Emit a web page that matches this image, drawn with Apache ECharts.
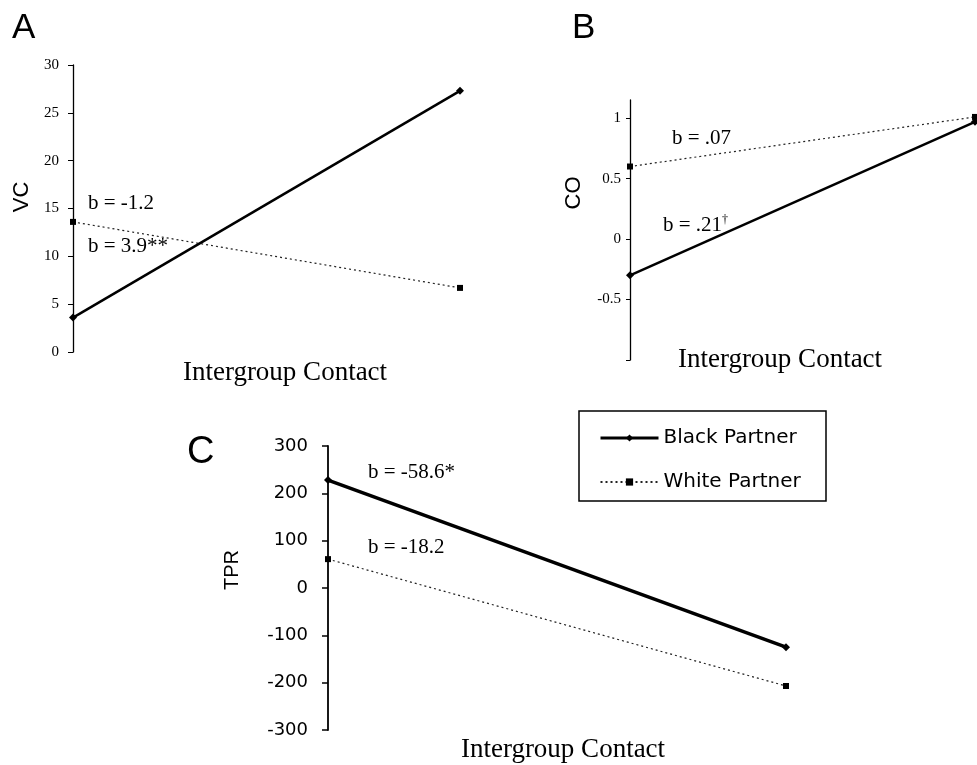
<!DOCTYPE html>
<html lang="en">
<head>
<meta charset="utf-8">
<title>Intergroup Contact</title>
<script src="https://cdn.jsdelivr.net/npm/echarts@6/dist/echarts.min.js"></script>
<style>
html, body { margin: 0; background: #fff; }
#main { width: 977px; height: 765px; }
</style>
</head>
<body>
<div id="main"></div>
<script>
// low / high intergroup contact
var contact = ['Low', 'High'];

// panel A - VC
var vcBlack = [3.6, 27.3];
var vcWhite = [13.6, 6.7];
// panel B - CO
var coBlack = [-0.30, 0.97];
var coWhite = [0.60, 1.01];
var coTicks = [-1, -0.5, 0, 0.5, 1];
var coLabels = [-0.5, 0, 0.5, 1];
// panel C - TPR
var tprBlack = [228, -125];
var tprWhite = [61, -207];

var slopesA = ['b = -1.2', 'b = 3.9**'];
var slopesB = ['b = .07', 'b = .21{s|†}'];
var slopesC = ['b = -58.6*', 'b = -18.2'];

var SERIF = 'Liberation Serif';
var SANS = 'Liberation Sans';
var chart = echarts.init(document.getElementById('main'));

function xAx(i) {
    return {
        type: 'category', gridIndex: i, data: contact, boundaryGap: false,
        axisLine: { show: false }, axisTick: { show: false },
        axisLabel: { show: false }, splitLine: { show: false }
    };
}
function blackLine(i, data, w) {
    return {
        name: 'Black Partner', type: 'line', xAxisIndex: i, yAxisIndex: i, data: data,
        symbol: 'diamond', symbolSize: 8, lineStyle: { color: '#000', width: w },
        itemStyle: { color: '#000' }, z: 3
    };
}
function whiteLine(i, data) {
    return {
        name: 'White Partner', type: 'line', xAxisIndex: i, yAxisIndex: i, data: data,
        symbol: 'rect', symbolSize: 6, lineStyle: { color: '#222', width: 1.2, type: [2, 3] },
        itemStyle: { color: '#000' }, z: 2
    };
}
function txt(text, x, y, font, align) {
    return {
        type: 'text', x: x, y: y,
        style: { text: text, font: font, fill: '#000', align: align || 'left', verticalAlign: 'middle' }
    };
}
function vtxt(text, x, y, font) {
    var t = txt(text, x, y, font, 'center');
    t.rotation = Math.PI / 2;
    return t;
}
function slope(text, x, y) {
    return {
        type: 'text', x: x, y: y,
        style: {
            text: text, fontFamily: SERIF, fontSize: 21, fill: '#000', verticalAlign: 'middle',
            rich: { s: { fontFamily: SERIF, fontSize: 12, verticalAlign: 'top', padding: [0, 0, 10, 0] } }
        }
    };
}

chart.setOption({
    animation: false,
    backgroundColor: '#fff',
    grid: [
        { left: 73, top: 65, width: 387, height: 287 },
        { left: 630, top: 100, width: 345, height: 260 },
        { left: 328, top: 446, width: 458, height: 284 }
    ],
    xAxis: [xAx(0), xAx(1), xAx(2)],
    yAxis: [
        {
            type: 'value', gridIndex: 0, min: 0, max: 30, interval: 5,
            axisLine: { show: true, lineStyle: { color: '#000', width: 1.3 } },
            axisTick: { show: true, length: 5, lineStyle: { color: '#000' } },
            axisLabel: { margin: 14, fontFamily: SERIF, fontSize: 15, color: '#000' },
            splitLine: { show: false }
        },
        {
            type: 'value', gridIndex: 1, min: -1, max: 1.15,
            axisLine: { show: true, lineStyle: { color: '#000', width: 1.3 } },
            axisTick: { show: true, length: 4, customValues: coTicks, lineStyle: { color: '#000' } },
            axisLabel: { margin: 9, customValues: coLabels, fontFamily: SERIF, fontSize: 15, color: '#000' },
            splitLine: { show: false }
        },
        {
            type: 'value', gridIndex: 2, min: -300, max: 300, interval: 100,
            axisLine: { show: true, lineStyle: { color: '#000', width: 1.8 } },
            axisTick: { show: true, length: 6, lineStyle: { color: '#000', width: 1.5 } },
            axisLabel: { margin: 20, fontFamily: 'DejaVu Sans', fontSize: 18, color: '#000' },
            splitLine: { show: false }
        }
    ],
    legend: {
        left: 594, top: 423, orient: 'vertical',
        itemWidth: 58, itemHeight: 9, itemGap: 24,
        textStyle: { fontFamily: 'DejaVu Sans', fontSize: 20, color: '#000' },
        data: [
            { name: 'Black Partner', lineStyle: { width: 3 } },
            { name: 'White Partner' }
        ]
    },
    series: [
        blackLine(0, vcBlack, 2.5), whiteLine(0, vcWhite),
        blackLine(1, coBlack, 2.5), whiteLine(1, coWhite),
        blackLine(2, tprBlack, 3.5), whiteLine(2, tprWhite)
    ],
    graphic: [
        { type: 'rect', shape: { x: 579, y: 411, width: 247, height: 90 },
          style: { fill: 'none', stroke: '#000', lineWidth: 1.5 } },
        txt('A', 12, 28, '35px ' + SANS),
        txt('B', 572, 28, '35px ' + SANS),
        txt('C', 187, 453, '38px ' + SANS),
        vtxt('VC', 22, 197, '22px ' + SANS),
        vtxt('CO', 574, 193, '22px ' + SANS),
        vtxt('TPR', 232, 570, '20px ' + SANS),
        txt('Intergroup Contact', 285, 373, '27px ' + SERIF, 'center'),
        txt('Intergroup Contact', 780, 360, '27px ' + SERIF, 'center'),
        txt('Intergroup Contact', 563, 750, '27px ' + SERIF, 'center'),
        slope(slopesA[0], 88, 203), slope(slopesA[1], 88, 246),
        slope(slopesB[0], 672, 138), slope(slopesB[1], 663, 225),
        slope(slopesC[0], 368, 472), slope(slopesC[1], 368, 547)
    ]
});
</script>
</body>
</html>
